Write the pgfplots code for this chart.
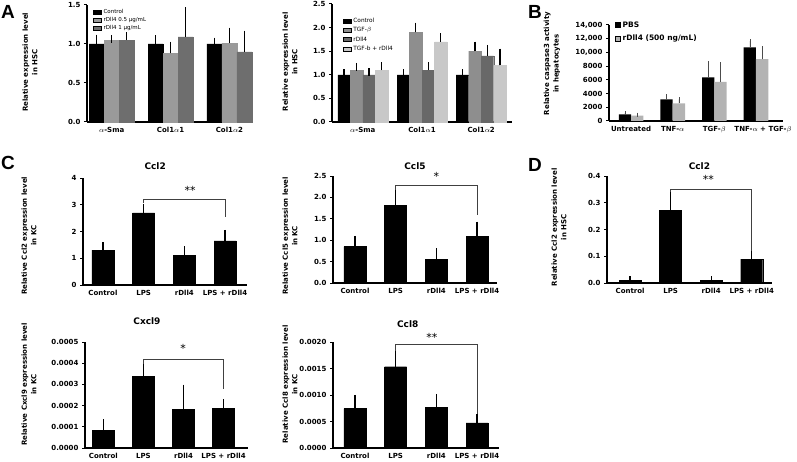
\documentclass[border=0pt]{standalone}
\usepackage{fontspec}
\setmainfont{DejaVu Sans}
\newfontfamily\letterfont{Liberation Sans}
\usepackage{pgfplots}
\pgfplotsset{compat=1.18}

\definecolor{aMid}{HTML}{9A9A9A}
\definecolor{aDark}{HTML}{6E6E6E}
\definecolor{tgfMid}{HTML}{8E8E8E}
\definecolor{rdDark}{HTML}{686868}
\definecolor{lightG}{HTML}{C8C8C8}
\definecolor{bGrey}{HTML}{B3B3B3}

\tikzset{bkt/.style={line width=0.8pt, black!75}}

\pgfplotsset{
  panel/.style={
    scale only axis,
    anchor=south west,
    axis lines*=left,
    axis line style={line width=1.2pt},
    ymin=0,
    tick align=outside,
    major tick length=3pt,
    ytick style={line width=1pt, black},
    xtick style={draw=none},
    scaled y ticks=false,
    tick label style={font=\fontsize{7}{8}\selectfont\bfseries},
    xticklabel style={inner sep=0.5pt, yshift=-1.5pt},
    ylabel style={font=\fontsize{7}{9.5}\selectfont\bfseries, align=center, anchor=center},
    title style={font=\fontsize{9}{10}\selectfont\bfseries, anchor=center},
    clip=false,
  },
  swatch/.style={
    legend image code/.code={\fill[##1] (0pt,-2pt) rectangle (8pt,2pt);},
  },
  sqswatch/.style={
    legend image code/.code={\fill[##1] (0pt,-2.5pt) rectangle (5pt,2.5pt);},
  },
  cbar/.style={ybar, bar width=22pt, xtick={0,1,2,3},
    xticklabels={Control,LPS,rDll4,LPS + rDll4}},
  ebar/.style={error bars/.cd, y dir=plus, y explicit,
    error bar style={line width=1.4pt, black},
    error mark options={line width=1.4pt, mark size=4pt, black}},
}

\begin{document}
\begin{tikzpicture}
\useasboundingbox (0pt,0pt) rectangle (797pt,461pt);

% ---------- A (left) ----------
\begin{axis}[panel, at={(87pt,339pt)}, width=166pt, height=117pt,
  ymax=1.5, ytick={0,0.5,1,1.5}, yticklabels={0.0,0.5,1.0,1.5},
  xmin=-0.42, xmax=2.4, xtick={0,1,2},
  xticklabels={$\alpha$-Sma, Col1$\alpha$1, Col1$\alpha$2},
  ybar=0pt, bar width=15pt, swatch,
  ylabel={Relative expression level\\in HSC},
  ylabel style={at={(axis description cs:-0.343,0.51)}},
  legend style={draw=none, fill=none, at={(0.036,0.985)}, anchor=north west,
    font=\fontsize{5.5}{6}\selectfont, row sep=-1.5pt, inner sep=0pt,
    cells={anchor=west}}]
\addlegendimage{fill=black}\addlegendentry{Control}
\addlegendimage{fill=aMid}\addlegendentry{rDll4 0.5 µg/mL}
\addlegendimage{fill=aDark}\addlegendentry{rDll4 1 µg/mL}
\addplot[forget plot, bar shift=-15pt, fill=black, draw=black, ebar] coordinates {
  (0,1.00) +- (0,0.07) (1,1.00) +- (0,0.06) (2,1.00) +- (0,0.03)};
\addplot[forget plot, bar shift=0pt, fill=aMid, draw=aMid, ebar] coordinates {
  (0,1.05) +- (0,0.01) (1,0.88) +- (0,0.10) (2,1.01) +- (0,0.15)};
\addplot[forget plot, bar shift=15pt, fill=aDark, draw=aDark, ebar] coordinates {
  (0,1.05) +- (0,0.05) (1,1.09) +- (0,0.33) (2,0.90) +- (0,0.22)};
\end{axis}

% ---------- A (right) ----------
\begin{axis}[panel, at={(332pt,339pt)}, width=180pt, height=118pt,
  ymax=2.5, ytick={0,0.5,1,1.5,2,2.5}, yticklabels={0.0,0.5,1.0,1.5,2.0,2.5},
  xmin=-0.52, xmax=2.52, xtick={0,1,2},
  xticklabels={$\alpha$-Sma, Col1$\alpha$1, Col1$\alpha$2},
  ybar=0pt, bar width=12.5pt, swatch,
  ylabel={Relative expression level\\in HSC},
  ylabel style={at={(axis description cs:-0.233,0.51)}},
  legend style={draw=none, fill=none, at={(0.06,0.9)}, anchor=north west,
    font=\fontsize{5.8}{6}\selectfont, row sep=-0.5pt, inner sep=0pt,
    cells={anchor=west}}]
\addlegendimage{fill=black}\addlegendentry{Control}
\addlegendimage{fill=tgfMid}\addlegendentry{TGF-$\beta$}
\addlegendimage{fill=rdDark}\addlegendentry{rDll4}
\addlegendimage{fill=lightG}\addlegendentry{TGF-b + rDll4}
\addplot[forget plot, bar shift=-18.75pt, fill=black, draw=black, ebar] coordinates {
  (0,1.00) +- (0,0.03) (1,1.00) +- (0,0.03) (2,1.00) +- (0,0.03)};
\addplot[forget plot, bar shift=-6.25pt, fill=tgfMid, draw=tgfMid, ebar] coordinates {
  (0,1.10) +- (0,0.07) (1,1.90) +- (0,0.12) (2,1.50) +- (0,0.12)};
\addplot[forget plot, bar shift=6.25pt, fill=rdDark, draw=rdDark, ebar] coordinates {
  (0,1.00) +- (0,0.05) (1,1.10) +- (0,0.08) (2,1.40) +- (0,0.15)};
\addplot[forget plot, bar shift=18.75pt, fill=lightG, draw=lightG, ebar] coordinates {
  (0,1.10) +- (0,0.08) (1,1.70) +- (0,0.10) (2,1.20) +- (0,0.27)};
\end{axis}

% ---------- B ----------
\begin{axis}[panel, at={(609pt,340pt)}, width=174pt, height=96pt,
  ymax=14000, ytick={0,2000,4000,6000,8000,10000,12000,14000},
  yticklabels={0,2000,4000,6000,8000,{10,000},{12,000},{14,000}},
  xmin=-0.53, xmax=3.65, xtick={0,1,2,3},
  xticklabels={Untreated, TNF-$\alpha$, TGF-$\beta$, {\hspace*{14pt}TNF-$\alpha$ + TGF-$\beta$}},
  ybar=0pt, bar width=12.3pt, sqswatch,
  ylabel={Relative caspase3 activity\\in hepatocytes},
  ylabel style={at={(axis description cs:-0.328,0.6)}},
  legend style={draw=none, fill=none, at={(0.035,1.06)}, anchor=north west,
    font=\fontsize{7.5}{8}\selectfont\bfseries, row sep=2.5pt, inner sep=0pt,
    cells={anchor=west}}]
\addlegendimage{fill=black}\addlegendentry{PBS}
\addlegendimage{fill=bGrey}\addlegendentry{rDll4 (500 ng/mL)}
\addplot[forget plot, bar shift=-6.15pt, fill=black, draw=none, error bars/.cd, y dir=plus, y explicit,
  error bar style={line width=0.6pt, black!70},
  error mark options={line width=0.6pt, mark size=2pt, black!70}] coordinates {
  (0,950) +- (0,180) (1,3160) +- (0,480) (2,6370) +- (0,2050) (3,10740) +- (0,920)};
\addplot[forget plot, bar shift=6.15pt, fill=bGrey, draw=none, error bars/.cd, y dir=plus, y explicit,
  error bar style={line width=0.6pt, black!70},
  error mark options={line width=0.6pt, mark size=2pt, black!70}] coordinates {
  (0,780) +- (0,140) (1,2580) +- (0,580) (2,5690) +- (0,2620) (3,9040) +- (0,1560)};
\end{axis}

% ---------- C: Ccl2 ----------
\begin{axis}[panel, cbar, at={(83pt,176pt)}, width=164pt, height=107pt,
  ymax=4, ytick={0,1,2,3,4}, yticklabels={0,1,2,3,4},
  xmin=-0.49, xmax=3.54,
  title={Ccl2}, title style={at={(axis description cs:0.44,1.056)}},
  ylabel={Relative Ccl2 expression level\\in KC},
  ylabel style={at={(axis description cs:-0.329,0.46)}}]
\addplot[fill=black, draw=black, ebar] coordinates {
  (0,1.30) +- (0,0.15) (1,2.70) +- (0,0.17) (2,1.10) +- (0,0.20) (3,1.65) +- (0,0.26)};
\draw[bkt] (axis cs:1,3.05) |- (axis cs:3,3.2) -- (axis cs:3,2.55);
\node[font=\fontsize{11}{11}\selectfont] at (axis cs:2.14,3.55) {**};
\end{axis}

% ---------- C: Ccl5 ----------
\begin{axis}[panel, cbar, at={(333pt,178pt)}, width=164pt, height=107pt,
  ymax=2.5, ytick={0,0.5,1,1.5,2,2.5}, yticklabels={0.0,0.5,1.0,1.5,2.0,2.5},
  xmin=-0.54, xmax=3.49,
  title={Ccl5}, title style={at={(axis description cs:0.5,1.037)}},
  ylabel={Relative Ccl5 expression level\\in KC},
  ylabel style={at={(axis description cs:-0.262,0.44)}}]
\addplot[fill=black, draw=black, ebar] coordinates {
  (0,0.85) +- (0,0.16) (1,1.81) +- (0,0.34) (2,0.56) +- (0,0.16) (3,1.09) +- (0,0.25)};
\draw[bkt] (axis cs:1,2.17) |- (axis cs:3,2.29) -- (axis cs:3,1.59);
\node[font=\fontsize{11}{11}\selectfont] at (axis cs:2.0,2.48) {*};
\end{axis}

% ---------- D: Ccl2 in HSC ----------
\begin{axis}[panel, cbar, at={(607pt,178pt)}, width=165pt, height=107pt,
  ymax=0.4, ytick={0,0.1,0.2,0.3,0.4}, yticklabels={0.0,0.1,0.2,0.3,0.4},
  xmin=-0.57, xmax=3.5,
  title={Ccl2}, title style={at={(axis description cs:0.56,1.04)}},
  ylabel={Relative Ccl2 expression level\\in HSC},
  ylabel style={at={(axis description cs:-0.291,0.52)}}]
\addplot[fill=black, draw=black, ebar] coordinates {
  (0,0.009) +- (0,0.001) (1,0.272) +- (0,0.055) (2,0.009) +- (0,0.001) (3,0.0895) +- (0,0.0145)};
\draw[bkt] (axis cs:1,0.339) |- (axis cs:3,0.3516) -- (axis cs:3,0.118);
\node[font=\fontsize{11}{11}\selectfont] at (axis cs:1.93,0.388) {**};
\end{axis}

% ---------- C: Cxcl9 ----------
\begin{axis}[panel, cbar, at={(85pt,13pt)}, width=163pt, height=106pt,
  ymax=0.0005, ytick={0,0.0001,0.0002,0.0003,0.0004,0.0005},
  yticklabels={0.0000,0.0001,0.0002,0.0003,0.0004,0.0005},
  xmin=-0.46, xmax=3.61,
  title={Cxcl9}, title style={at={(axis description cs:0.38,1.14)}},
  ylabel={Relative Cxcl9 expression level\\in KC},
  ylabel style={at={(axis description cs:-0.344,0.6)}}]
\addplot[fill=black, draw=black, ebar] coordinates {
  (0,0.000083) +- (0,0.000034) (1,0.000339) +- (0,0.000051)
  (2,0.000183) +- (0,0.000097) (3,0.000187) +- (0,0.000023)};
\draw[bkt] (axis cs:1,0.000398) |- (axis cs:3,0.000417) -- (axis cs:3,0.00028);
\node[font=\fontsize{11}{11}\selectfont] at (axis cs:1.99,0.000472) {*};
\end{axis}

% ---------- C: Ccl8 ----------
\begin{axis}[panel, cbar, at={(333pt,13pt)}, width=166pt, height=106pt,
  ymax=0.002, ytick={0,0.0005,0.001,0.0015,0.002},
  yticklabels={0.0000,0.0005,0.0010,0.0015,0.0020},
  xmin=-0.54, xmax=3.54,
  title={Ccl8}, title style={at={(axis description cs:0.45,1.11)}},
  ylabel={Relative Ccl8 expression level\\in KC},
  ylabel style={at={(axis description cs:-0.259,0.6)}}]
\addplot[fill=black, draw=black, ebar] coordinates {
  (0,0.000745) +- (0,0.00018) (1,0.001534) +- (0,0.00029)
  (2,0.000764) +- (0,0.00018) (3,0.000472) +- (0,0.000088)};
\draw[bkt] (axis cs:1,0.001826) |- (axis cs:3,0.00195) -- (axis cs:3,0.000634);
\node[font=\fontsize{11}{11}\selectfont] at (axis cs:1.89,0.00208) {**};
\end{axis}

% ---------- panel letters ----------
\node[font=\letterfont\bfseries\fontsize{19}{19}\selectfont] at (8pt,449pt) {A};
\node[font=\letterfont\bfseries\fontsize{19}{19}\selectfont] at (535pt,449pt) {B};
\node[font=\letterfont\bfseries\fontsize{19}{19}\selectfont] at (8pt,298pt) {C};
\node[font=\letterfont\bfseries\fontsize{19}{19}\selectfont] at (535pt,296pt) {D};
\end{tikzpicture}
\end{document}
